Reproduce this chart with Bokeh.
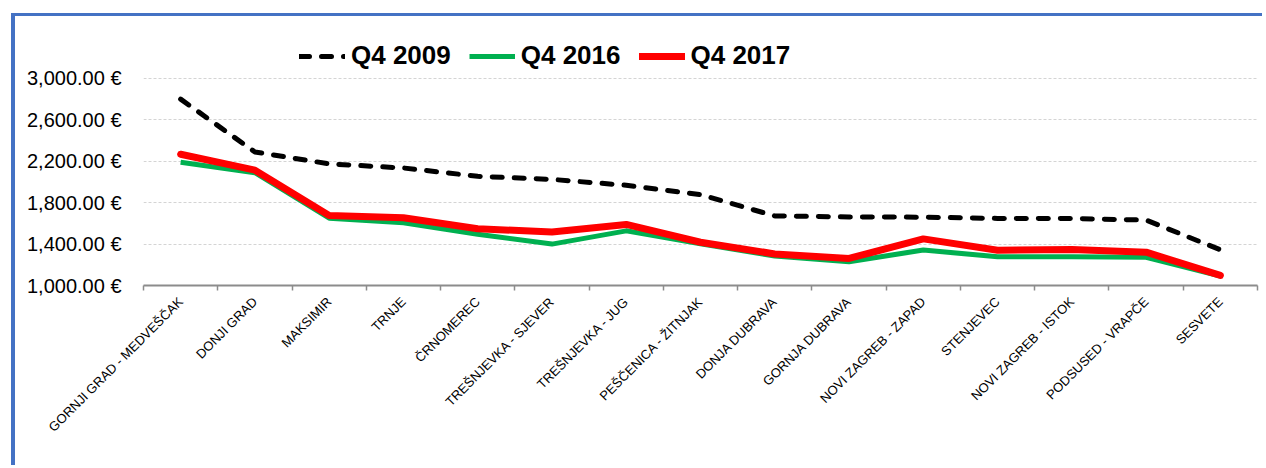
from math import pi
from bokeh.plotting import figure
from bokeh.models import Range1d, FixedTicker, Legend, LegendItem
from bokeh.embed import file_html
from bokeh.resources import INLINE

categories = [
    "GORNJI GRAD - MEDVEŠČAK", "DONJI GRAD", "MAKSIMIR", "TRNJE", "ČRNOMEREC",
    "TREŠNJEVKA - SJEVER", "TREŠNJEVKA - JUG", "PEŠČENICA - ŽITNJAK",
    "DONJA DUBRAVA", "GORNJA DUBRAVA", "NOVI ZAGREB - ZAPAD", "STENJEVEC",
    "NOVI ZAGREB - ISTOK", "PODSUSED - VRAPČE", "SESVETE",
]
q4_2009 = [2800, 2290, 2175, 2135, 2055, 2025, 1968, 1878, 1672, 1662, 1660, 1648, 1647, 1632, 1345]
q4_2016 = [2190, 2090, 1650, 1605, 1495, 1400, 1528, 1402, 1285, 1230, 1342, 1278, 1277, 1272, 1090]
q4_2017 = [2268, 2114, 1676, 1654, 1548, 1516, 1590, 1418, 1305, 1261, 1450, 1341, 1348, 1322, 1097]
series_labels = ["Q4 2009", "Q4 2016", "Q4 2017"]
y_ticks = [1000, 1400, 1800, 2200, 2600, 3000]
y_tick_labels = ["1,000.00 €", "1,400.00 €", "1,800.00 €", "2,200.00 €", "2,600.00 €", "3,000.00 €"]

n = len(categories)
x = [i + 0.5 for i in range(n)]

p = figure(width=1251, height=452, output_backend="svg", toolbar_location=None,
           x_range=Range1d(0, n), y_range=Range1d(1000, 3550),
           min_border_left=128, min_border_right=9, min_border_top=5, min_border_bottom=183)
p.margin = (13, 0, 0, 11)
p.styles = {"border-top": "3px solid #4472C4", "border-left": "4px solid #4472C4"}
p.outline_line_color = None
p.background_fill_color = "white"
p.border_fill_color = "white"

# grid
p.xgrid.visible = False
p.ygrid.ticker = FixedTicker(ticks=y_ticks)
p.ygrid.grid_line_color = "#d4d4d4"
p.ygrid.grid_line_dash = "3 2"
p.ygrid.grid_line_width = 1

# y axis
p.yaxis.ticker = FixedTicker(ticks=y_ticks)
p.yaxis.major_label_overrides = dict(zip(y_ticks, y_tick_labels))
p.yaxis.axis_line_color = None
p.yaxis.major_tick_line_color = None
p.yaxis.minor_tick_line_color = None
p.yaxis.major_tick_out = 0
p.yaxis.major_tick_in = 0
p.yaxis.major_label_standoff = 22
p.yaxis.major_label_text_font = "Liberation Sans"
p.yaxis.major_label_text_font_size = "20px"
p.yaxis.major_label_text_color = "#000000"

# x axis
p.xaxis.ticker = FixedTicker(ticks=x, minor_ticks=list(range(n + 1)))
p.xaxis.major_label_overrides = dict(zip(x, categories))
p.xaxis.major_label_orientation = pi / 4
p.xaxis.major_tick_line_color = None
p.xaxis.major_tick_out = 0
p.xaxis.major_tick_in = 0
p.xaxis.minor_tick_out = 5
p.xaxis.minor_tick_in = 0
p.xaxis.minor_tick_line_color = "#8c8c8c"
p.xaxis.minor_tick_line_width = 1.5
p.xaxis.axis_line_color = "#8c8c8c"
p.xaxis.axis_line_width = 2
p.xaxis.major_label_standoff = 9
p.xaxis.major_label_text_font = "Liberation Sans"
p.xaxis.major_label_text_font_size = "13px"
p.xaxis.major_label_text_color = "#000000"

r09 = p.line(x, q4_2009, line_color="black", line_width=5, line_dash="10 12", line_cap="round", line_join="round")
r16 = p.line(x, q4_2016, line_color="#00B050", line_width=5, line_join="round")
r17 = p.line(x, q4_2017, line_color="#FF0000", line_width=7, line_join="round", line_cap="round")

legend = Legend(items=[LegendItem(label=series_labels[0], renderers=[r09]),
                       LegendItem(label=series_labels[1], renderers=[r16]),
                       LegendItem(label=series_labels[2], renderers=[r17])],
                orientation="horizontal", location=(156, 214),
                glyph_width=46, glyph_height=30, label_height=30, label_standoff=6,
                spacing=18, padding=0, margin=0, border_line_color=None,
                background_fill_alpha=0,
                label_text_font="Liberation Sans", label_text_font_style="bold",
                label_text_font_size="26px", label_text_color="#000000")
p.add_layout(legend)

open("out.html", "w").write(file_html(p, INLINE))
